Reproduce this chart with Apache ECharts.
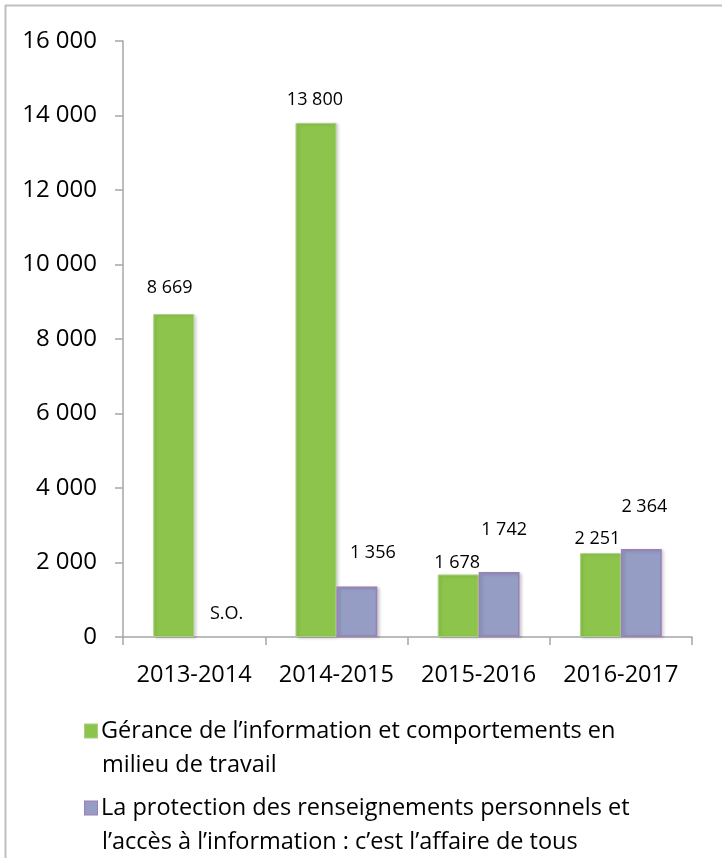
<!DOCTYPE html>
<html>
<head>
<meta charset="utf-8">
<script src="https://cdn.jsdelivr.net/npm/echarts@6/dist/echarts.min.js"></script>
<style>
html,body{margin:0;padding:0;background:#fff;}
#chart{width:722px;height:858px;}
</style>
</head>
<body>
<div id="chart"></div>
<script>
// ---- data ----
var categories = ['2013-2014', '2014-2015', '2015-2016', '2016-2017'];
var seriesNames = [
  'Gérance de l’information et comportements en milieu de travail',
  'La protection des renseignements personnels et l’accès à l’information : c’est l’affaire de tous'
];
var legendLines = [
  ['Gérance de l’information et comportements en', 'milieu de travail'],
  ['La protection des renseignements personnels et', 'l’accès à l’information : c’est l’affaire de tous']
];
var greenValues = [8669, 13800, 1678, 2251];
var purpleValues = [null, 1356, 1742, 2364];   // null = S.O. (sans objet)
var missingLabel = 'S.O.';
var yTickValues = [0, 2000, 4000, 6000, 8000, 10000, 12000, 14000, 16000];

// ---- styling ----
var GREEN = '#8DC54C', GREEN_BORDER = '#A9D182';
var PURPLE = '#969DC4', PURPLE_BORDER = '#9C7EBB';
var greenLabelOffsets = [[-4, -12], [-1, -9], [-1, 2], [-3, 0]];
var purpleLabelOffsets = [[12, -9], [16, -20], [5, -28], [3, -28]];

var FONT = '"Open Sans", "Noto Sans", sans-serif';
function fmt(v) {
  return String(v).replace(/\B(?=(\d{3})+(?!\d))/g, ' ');
}

function buildData(values, offsets) {
  return values.map(function (v, i) {
    if (v === null) {
      return {
        value: 0,
        itemStyle: { color: 'rgba(0,0,0,0)', borderWidth: 0, shadowColor: 'rgba(0,0,0,0)' },
        label: { show: true, offset: offsets[i], formatter: missingLabel }
      };
    }
    return { value: v, label: { offset: offsets[i] } };
  });
}

function legendFor(idx, top, color, border) {
  var lines = legendLines[idx];
  return {
    data: [seriesNames[idx]],
    left: 79, top: top, padding: 0,
    icon: 'rect', itemWidth: 0, itemHeight: 0,
    itemStyle: { opacity: 0 },
    formatter: function () {
      return '{box|}{t|' + lines[0] + '}\n{sp|}{t|' + lines[1] + '}';
    },
    textStyle: {
      fontFamily: FONT, fontSize: 23.5, color: '#000', lineHeight: 34,
      rich: {
        box: { width: 12, height: 13, backgroundColor: color, borderColor: border, borderWidth: 1, lineHeight: 34 },
        sp: { width: 13, height: 13, lineHeight: 34 },
        t: { fontFamily: FONT, fontSize: 23.5, color: '#000', lineHeight: 34, padding: [0, 0, 0, 4] }
      }
    }
  };
}

var chart = echarts.init(document.getElementById('chart'), null, { renderer: 'canvas' });
chart.setOption({
  backgroundColor: '#fff',
  animation: false,
  textStyle: { fontFamily: FONT },
  grid: { left: 123, right: 30, top: 41, bottom: 221, containLabel: false },
  xAxis: {
    type: 'category',
    data: categories,
    axisLine: { lineStyle: { color: '#A6A6A6', width: 1.5 } },
    axisTick: { show: true, length: 8, lineStyle: { color: '#A6A6A6', width: 1.5 } },
    axisLabel: { color: '#000', fontSize: 23.5, fontFamily: FONT, margin: 26, interval: 0 }
  },
  yAxis: {
    type: 'value',
    min: yTickValues[0],
    max: yTickValues[yTickValues.length - 1],
    interval: yTickValues[1] - yTickValues[0],
    axisLine: { show: true, lineStyle: { color: '#A6A6A6', width: 1.5 } },
    axisTick: { show: true, length: 8, lineStyle: { color: '#A6A6A6', width: 1.5 } },
    splitLine: { show: false },
    axisLabel: { color: '#000', fontSize: 24, fontFamily: FONT, margin: 26, formatter: fmt }
  },
  legend: [
    legendFor(0, 714, GREEN, GREEN_BORDER),
    legendFor(1, 791, PURPLE, PURPLE_BORDER)
  ],
  graphic: [
    { type: 'line', shape: { x1: 5, y1: 5.5, x2: 722, y2: 5.5 }, style: { stroke: '#BFBFBF', lineWidth: 2 }, silent: true },
    { type: 'line', shape: { x1: 5.5, y1: 5, x2: 5.5, y2: 858 }, style: { stroke: '#BFBFBF', lineWidth: 2 }, silent: true }
  ],
  series: [
    {
      name: seriesNames[0],
      type: 'bar',
      data: buildData(greenValues, greenLabelOffsets),
      barGap: '0%',
      barCategoryGap: '42.5%',
      itemStyle: {
        color: GREEN, borderColor: GREEN_BORDER, borderWidth: 1,
        shadowColor: 'rgba(0,0,0,0.18)', shadowBlur: 3, shadowOffsetX: 2, shadowOffsetY: 1
      },
      label: { show: true, position: 'top', color: '#000', fontSize: 18, fontFamily: FONT, formatter: function (p) { return fmt(p.value); } }
    },
    {
      name: seriesNames[1],
      type: 'bar',
      data: buildData(purpleValues, purpleLabelOffsets),
      barGap: '0%',
      barCategoryGap: '42.5%',
      itemStyle: {
        color: PURPLE, borderColor: PURPLE_BORDER, borderWidth: 1.5,
        shadowColor: 'rgba(0,0,0,0.18)', shadowBlur: 3, shadowOffsetX: 2, shadowOffsetY: 1
      },
      label: { show: true, position: 'top', color: '#000', fontSize: 18, fontFamily: FONT, formatter: function (p) { return fmt(p.value); } }
    }
  ]
});
</script>
</body>
</html>
